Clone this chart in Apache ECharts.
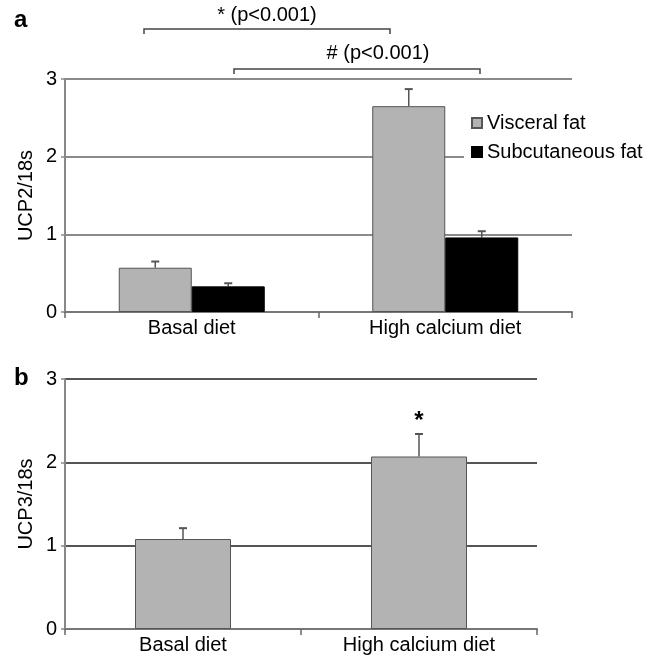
<!DOCTYPE html>
<html>
<head>
<meta charset="utf-8">
<script src="https://cdn.jsdelivr.net/npm/echarts@6/dist/echarts.min.js"></script>
<style>
  html, body { margin: 0; background: #fff; }
  #chart { width: 661px; height: 657px; }
</style>
</head>
<body>
<div id="chart"></div>
<script>
// data
const categories = ['Basal diet', 'High calcium diet'];
const ucp2Visceral = [0.57, 2.65];
const ucp2VisceralErr = [0.65, 2.87];
const ucp2Subcut = [0.33, 0.96];
const ucp2SubcutErr = [0.37, 1.04];
const ucp3 = [1.08, 2.07];
const ucp3Err = [1.21, 2.34];
const ucp3Marks = ['', '*'];

const FONT = 'Liberation Sans';
const GREY_BAR = '#b3b3b3';

function errData(vals, errs, marks) {
    return vals.map((v, i) => [i, v, errs[i], marks ? marks[i] : '']);
}

// whisker + cap, shifted to sit on the right bar in a group
function errRender(nBars, barIdx, barPx, color) {
    return function (params, api) {
        const cat = api.value(0);
        const p0 = api.coord([cat, api.value(1)]);
        const p1 = api.coord([cat, api.value(2)]);
        const x = p0[0] + (barIdx - (nBars - 1) / 2) * barPx;
        const children = [
            {type: 'line', shape: {x1: x, y1: p0[1], x2: x, y2: p1[1]},
             style: {stroke: color, lineWidth: 1.5}},
            {type: 'line', shape: {x1: x - 4, y1: p1[1], x2: x + 4, y2: p1[1]},
             style: {stroke: color, lineWidth: 2}}
        ];
        const mark = api.value(3);
        if (mark) {
            children.push({type: 'text', x: x, y: p1[1] - 1,
                style: {text: mark, fontSize: 24, fontWeight: 'bold', fontFamily: FONT, fill: '#000',
                        align: 'center', verticalAlign: 'bottom'}});
        }
        return {type: 'group', children: children};
    };
}

function xAxisFor(idx) {
    return {
        gridIndex: idx,
        type: 'category',
        data: categories,
        axisLine: {lineStyle: {color: '#777', width: 2}},
        axisTick: {show: true, length: 6, lineStyle: {color: '#666', width: 1.5}},
        axisLabel: {color: '#000', fontSize: 20, fontFamily: FONT, margin: 6}
    };
}

function yAxisFor(idx, name, gridColor) {
    return {
        gridIndex: idx,
        type: 'value',
        min: 0, max: 3, interval: 1,
        name: name,
        nameLocation: 'middle',
        nameGap: 29,
        nameMoveOverlap: false,
        nameTextStyle: {color: '#000', fontSize: 20, fontFamily: FONT},
        axisLine: {show: true, lineStyle: {color: '#888', width: 2}},
        axisTick: {show: true, length: 4, lineStyle: {color: '#888', width: 1.5}},
        axisLabel: {color: '#000', fontSize: 20, fontFamily: FONT, margin: 8},
        splitLine: {lineStyle: {color: gridColor, width: 2}}
    };
}

const chart = echarts.init(document.getElementById('chart'));

const option = {
    animation: false,
    textStyle: {fontFamily: FONT},
    grid: [
        {left: 65, top: 79, width: 507, height: 233},
        {left: 65, top: 379, width: 472, height: 250}
    ],
    xAxis: [xAxisFor(0), xAxisFor(1)],
    yAxis: [yAxisFor(0, 'UCP2/18s', '#8a8a8a'), yAxisFor(1, 'UCP3/18s', '#555')],
    legend: {
        data: ['Visceral fat', 'Subcutaneous fat'],
        orient: 'vertical',
        left: 464, top: 109,
        padding: [4, 6, 4, 7],
        backgroundColor: '#fff',
        itemWidth: 10, itemHeight: 10, itemGap: 9,
        icon: 'rect',
        textStyle: {color: '#000', fontSize: 20, fontFamily: FONT}
    },
    graphic: [
        {type: 'text', left: 14, top: 8,
         style: {text: 'a', fontSize: 24, fontWeight: 'bold', fontFamily: FONT, fill: '#000'}},
        {type: 'text', left: 14, top: 366,
         style: {text: 'b', fontSize: 24, fontWeight: 'bold', fontFamily: FONT, fill: '#000'}},
        {type: 'polyline', shape: {points: [[144, 34], [144, 29], [390, 29], [390, 34]]},
         style: {stroke: '#444', lineWidth: 1.5, fill: null}},
        {type: 'text', x: 267, y: 15,
         style: {text: '* (p<0.001)', fontSize: 20, fontFamily: FONT, fill: '#000',
                 align: 'center', verticalAlign: 'middle'}},
        {type: 'polyline', shape: {points: [[234, 74], [234, 69], [480, 69], [480, 74]]},
         style: {stroke: '#444', lineWidth: 1.5, fill: null}},
        {type: 'text', x: 378, y: 53,
         style: {text: '# (p<0.001)', fontSize: 20, fontFamily: FONT, fill: '#000',
                 align: 'center', verticalAlign: 'middle'}}
    ],
    series: [
        {
            name: 'Visceral fat', type: 'bar', xAxisIndex: 0, yAxisIndex: 0,
            barWidth: 73, barGap: '0%',
            itemStyle: {color: GREY_BAR, borderColor: '#555', borderWidth: 1},
            data: ucp2Visceral
        },
        {
            name: 'Subcutaneous fat', type: 'bar', xAxisIndex: 0, yAxisIndex: 0,
            barWidth: 73, barGap: '0%',
            itemStyle: {color: '#000', borderColor: '#000', borderWidth: 1},
            data: ucp2Subcut
        },
        {
            type: 'custom', xAxisIndex: 0, yAxisIndex: 0, z: 1,
            renderItem: errRender(2, 0, 73, '#555'),
            data: errData(ucp2Visceral, ucp2VisceralErr)
        },
        {
            type: 'custom', xAxisIndex: 0, yAxisIndex: 0, z: 1,
            renderItem: errRender(2, 1, 73, '#555'),
            data: errData(ucp2Subcut, ucp2SubcutErr)
        },
        {
            name: 'UCP3', type: 'bar', xAxisIndex: 1, yAxisIndex: 1,
            barWidth: 96,
            itemStyle: {color: GREY_BAR, borderColor: '#555', borderWidth: 1},
            data: ucp3
        },
        {
            type: 'custom', xAxisIndex: 1, yAxisIndex: 1, z: 1,
            renderItem: errRender(1, 0, 96, '#555'),
            data: errData(ucp3, ucp3Err, ucp3Marks)
        }
    ]
};

chart.setOption(option);
</script>
</body>
</html>
